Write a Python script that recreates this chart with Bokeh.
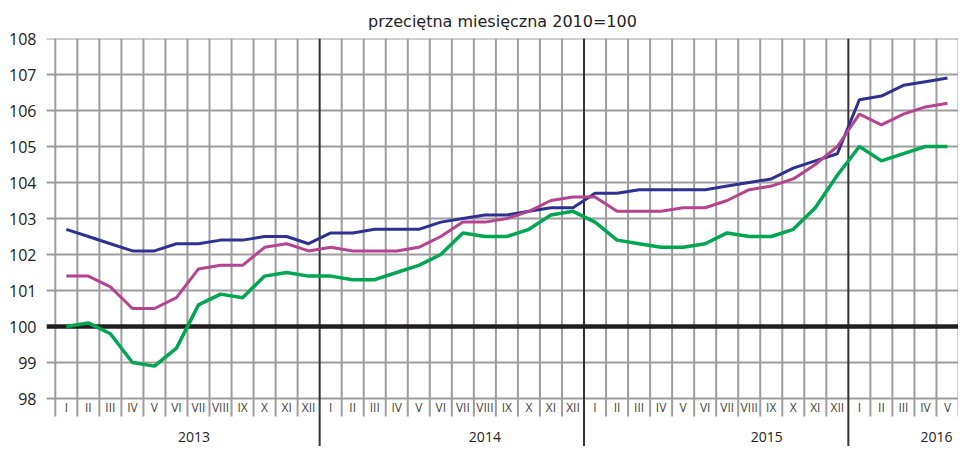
from bokeh.plotting import figure
from bokeh.models import FixedTicker, Range1d
from bokeh.core.properties import value
from bokeh.embed import file_html
from bokeh.resources import INLINE

months = ["I", "II", "III", "IV", "V", "VI", "VII", "VIII", "IX", "X", "XI", "XII"] * 3 + ["I", "II", "III", "IV", "V"]
years = ["2013", "2014", "2015", "2016"]
year_label_pos = [6.3, 19.5, 32.3, 40.0]
year_bounds = [12, 24, 36]

blue = [102.7, 102.5, 102.3, 102.1, 102.1, 102.3, 102.3, 102.4, 102.4, 102.5, 102.5, 102.3,
        102.6, 102.6, 102.7, 102.7, 102.7, 102.9, 103.0, 103.1, 103.1, 103.2, 103.3, 103.3,
        103.7, 103.7, 103.8, 103.8, 103.8, 103.8, 103.9, 104.0, 104.1, 104.4, 104.6, 104.8,
        106.3, 106.4, 106.7, 106.8, 106.9]
magenta = [101.4, 101.4, 101.1, 100.5, 100.5, 100.8, 101.6, 101.7, 101.7, 102.2, 102.3, 102.1,
           102.2, 102.1, 102.1, 102.1, 102.2, 102.5, 102.9, 102.9, 103.0, 103.2, 103.5, 103.6,
           103.6, 103.2, 103.2, 103.2, 103.3, 103.3, 103.5, 103.8, 103.9, 104.1, 104.5, 105.0,
           105.9, 105.6, 105.9, 106.1, 106.2]
green = [100.0, 100.1, 99.8, 99.0, 98.9, 99.4, 100.6, 100.9, 100.8, 101.4, 101.5, 101.4,
         101.4, 101.3, 101.3, 101.5, 101.7, 102.0, 102.6, 102.5, 102.5, 102.7, 103.1, 103.2,
         102.9, 102.4, 102.3, 102.2, 102.2, 102.3, 102.6, 102.5, 102.5, 102.7, 103.3, 104.2,
         105.0, 104.6, 104.8, 105.0, 105.0]
y_ticks = list(range(98, 109))

n = len(months)
xs = [i + 0.5 for i in range(n)]
y_bottom = 96.667

p = figure(width=958, height=446, output_backend="svg", toolbar_location=None,
           x_range=Range1d(-0.4, n), y_range=Range1d(y_bottom, 108),
           min_border_left=46, min_border_right=0, min_border_top=38, min_border_bottom=0,
           title="przeciętna miesięczna 2010=100")
p.outline_line_color = None
p.xaxis.visible = False
p.xgrid.visible = False
p.ygrid.visible = False
p.title.align = "center"
p.title.text_font = "DejaVu Sans"
p.title.text_font_size = "16px"
p.title.text_font_style = "normal"
p.title.text_color = "#222222"
p.title.standoff = 15

ya = p.yaxis[0]
ya.ticker = FixedTicker(ticks=y_ticks)
ya.axis_line_color = None
ya.major_tick_line_color = None
ya.minor_tick_line_color = None
ya.major_tick_out = 0
ya.major_tick_in = 0
ya.minor_tick_out = 0
ya.minor_tick_in = 0
ya.major_label_text_font = "Open Sans"
ya.major_label_text_font_size = "16px"
ya.major_label_text_color = "#222222"
ya.major_label_standoff = 10

grid_col = "#9d9d9d"
hy = [v for v in y_ticks if v != 100]
p.segment(x0=[-0.4] * len(hy), y0=hy, x1=[n] * len(hy), y1=hy, line_color=grid_col, line_width=2)
vx = [i for i in range(n + 1) if i not in year_bounds]
p.segment(x0=vx, y0=[97.5] * len(vx), x1=vx, y1=[108] * len(vx), line_color=grid_col, line_width=2)
p.segment(x0=year_bounds, y0=[y_bottom] * 3, x1=year_bounds, y1=[108] * 3, line_color="#333333", line_width=2)
p.segment(x0=[-0.4], y0=[100], x1=[n], y1=[100], line_color="#231f20", line_width=4.5)

p.line(xs, blue, line_color="#2e3192", line_width=3)
p.line(xs, magenta, line_color="#b5438f", line_width=3)
p.line(xs, green, line_color="#00a651", line_width=3.5)

p.text(x=xs, y=[97.75] * n, text=months, text_align="center", text_baseline="middle",
       text_font=value("Open Sans"), text_font_size="12px", text_color="#444444")
p.text(x=year_label_pos, y=[96.92] * 4, text=years, text_align="center", text_baseline="middle",
       text_font=value("Open Sans"), text_font_size="14px", text_color="#222222")

open("out.html", "w").write(file_html(p, INLINE))
